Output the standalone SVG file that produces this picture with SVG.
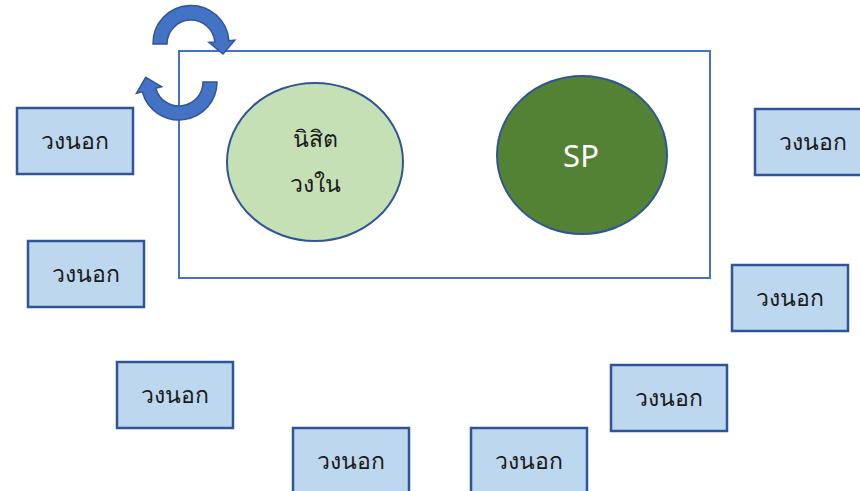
<svg xmlns="http://www.w3.org/2000/svg" width="860" height="491" viewBox="0 0 860 491">
<style>
.box{fill:#BDD7EE;stroke:#2F5597;stroke-width:2.5}
.lbl{font-family:"Noto Sans","DejaVu Sans",sans-serif;font-size:23px;fill:#1a1a1a;text-anchor:middle}
.arr{fill:#4472C4;stroke:#2F5597;stroke-width:1.5;stroke-linejoin:miter}
</style>
<rect width="860" height="491" fill="#ffffff"/>
<g id="frame"><rect x="179" y="51" width="531" height="227" fill="none" stroke="#4472C4" stroke-width="2"/></g>
<g id="connectors">
<path class="arr" d="M153,44 A38,38 0 0 1 228.9,40.7 L234.8,40.2 L223,54 L208.9,42.4 L214.9,41.9 A24,24 0 0 0 167,44 Z"/>
<path class="arr" d="M217,82 A38,38 0 0 1 142.3,91.8 L136.5,93.4 L145.7,77.4 L161.6,86.7 L155.8,88.2 A24,24 0 0 0 203,82 Z"/>
</g>
<g id="inner">
<ellipse cx="315" cy="162" rx="88" ry="79" fill="#C5E0B4" stroke="#2F5597" stroke-width="2"/>
<text class="lbl" x="315" y="147">นิสิต</text>
<text class="lbl" x="315" y="192">วงใน</text>
</g>
<g id="sp">
<ellipse cx="582" cy="155" rx="85" ry="79" fill="#548235" stroke="#2F5597" stroke-width="2"/>
<text class="lbl" x="581" y="167" style="font-size:31px;fill:#ffffff">SP</text>
</g>
<g id="n1"><rect class="box" x="17" y="108" width="116" height="66"/><text class="lbl" x="75" y="149">วงนอก</text></g>
<g id="n2"><rect class="box" x="28" y="241" width="116" height="66"/><text class="lbl" x="86" y="282">วงนอก</text></g>
<g id="n3"><rect class="box" x="117" y="362" width="116" height="66"/><text class="lbl" x="175" y="403">วงนอก</text></g>
<g id="n4"><rect class="box" x="293" y="428" width="116" height="66"/><text class="lbl" x="351" y="469">วงนอก</text></g>
<g id="n5"><rect class="box" x="471" y="428" width="116" height="66"/><text class="lbl" x="529" y="469">วงนอก</text></g>
<g id="n6"><rect class="box" x="611" y="365" width="116" height="66"/><text class="lbl" x="669" y="406">วงนอก</text></g>
<g id="n7"><rect class="box" x="732" y="265" width="116" height="66"/><text class="lbl" x="790" y="306">วงนอก</text></g>
<g id="n8"><rect class="box" x="755" y="109" width="116" height="66"/><text class="lbl" x="813" y="150">วงนอก</text></g>
</svg>
